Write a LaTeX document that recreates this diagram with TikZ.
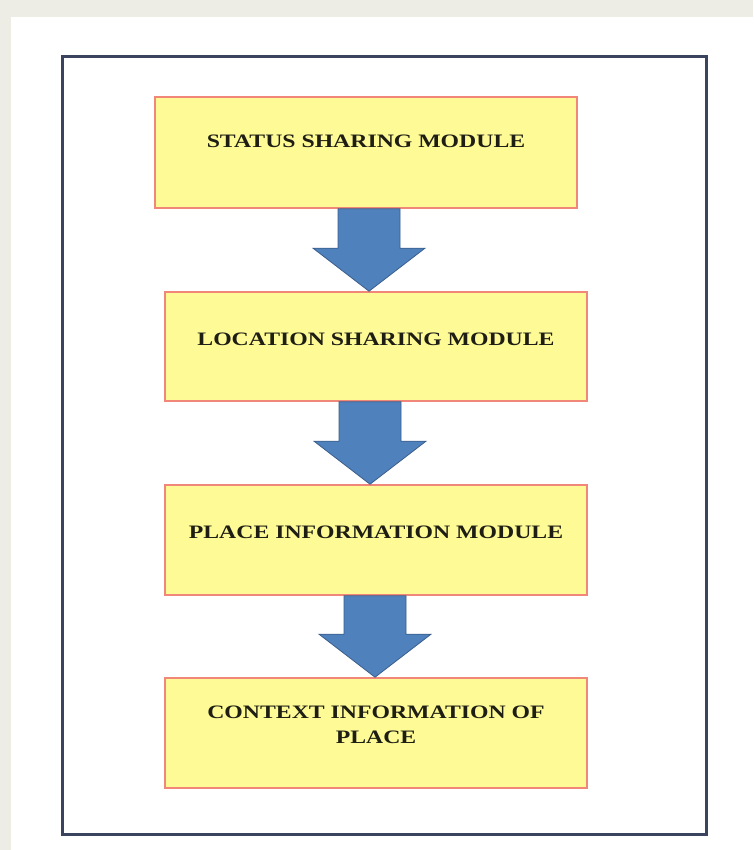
\documentclass[tikz,border=0pt]{standalone}
\usepackage{fontspec}
\setmainfont{Liberation Serif}
\usepackage{graphicx}
\usetikzlibrary{calc}
\definecolor{bgbeige}{RGB}{237,237,229}
\definecolor{framecol}{RGB}{58,68,94}
\definecolor{boxfill}{RGB}{254,250,150}
\definecolor{boxline}{RGB}{240,135,120}
\definecolor{arrfill}{RGB}{79,129,189}
\definecolor{arrline}{RGB}{58,94,140}
\definecolor{textcol}{RGB}{30,30,20}
\newcommand\modtext[2]{\raisebox{#1}[0pt][0pt]{\scalebox{1.25}[1]{#2}}}
\newcommand\blockarr[3]{%
  \path let \p1=(#1), \p2=(#2) in [blockarrow]
    (#3pt-31pt,\y1) -- (#3pt+31pt,\y1) -- (#3pt+31pt,\y2+43pt) --
    (#3pt+56pt,\y2+43pt) -- (#3pt,\y2) -- (#3pt-56pt,\y2+43pt) --
    (#3pt-31pt,\y2+43pt) -- cycle;}
\begin{document}
\begin{tikzpicture}[x=1pt,y=-1pt,
  modbox/.style={draw=boxline, fill=boxfill, line width=1.6pt,
    minimum width=422pt, minimum height=#1, inner sep=0pt,
    font=\fontsize{19}{25}\selectfont\bfseries, text=textcol},
  blockarrow/.style={draw=arrline, fill=arrfill, line width=0.8pt, line join=miter},
  outerframe/.style={draw=framecol, line width=3pt}]
\useasboundingbox (0,0) rectangle (753,850);
\fill[bgbeige] (0,0) rectangle (753,850);
\fill[white] (11,17) rectangle (753,850);
\draw[outerframe] (62,57) rectangle (706,834);

\node[modbox=111pt] (b1) at (366,152.5) {\modtext{4.5pt}{STATUS SHARING MODULE}};
\node[modbox=109pt] (b2) at (376,346.5) {\modtext{1.5pt}{LOCATION SHARING MODULE}};
\node[modbox=110pt] (b3) at (376,540) {\modtext{2pt}{PLACE INFORMATION MODULE}};
\node[modbox=110pt] (b4) at (376,733) {\modtext{-10.5pt}{\begin{tabular}[b]{@{}c@{}}CONTEXT INFORMATION OF\\PLACE\end{tabular}}};

\blockarr{b1.south}{b2.north}{369}
\blockarr{b2.south}{b3.north}{370}
\blockarr{b3.south}{b4.north}{375}
\end{tikzpicture}
\end{document}
